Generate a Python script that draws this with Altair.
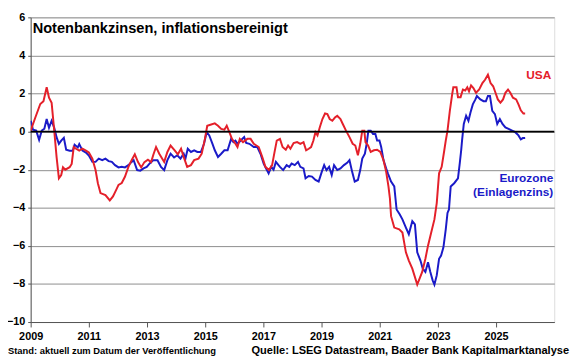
import altair as alt
import pandas as pd

# USA real policy rate (year fraction, percent)
us_t = [2009.00, 2009.16, 2009.33, 2009.44, 2009.55, 2009.63, 2009.72, 2009.81, 2009.89, 2009.97,
        2010.05, 2010.11, 2010.19, 2010.34, 2010.41, 2010.48, 2010.56, 2010.67, 2010.78, 2010.90,
        2011.00, 2011.12, 2011.23, 2011.31, 2011.40, 2011.57, 2011.72, 2011.83, 2011.94, 2012.02,
        2012.13, 2012.24, 2012.36, 2012.47, 2012.58, 2012.69, 2012.80, 2012.91, 2013.03, 2013.14,
        2013.22, 2013.31, 2013.42, 2013.59, 2013.70, 2013.81, 2013.95, 2014.06, 2014.17, 2014.26,
        2014.38, 2014.51, 2014.62, 2014.77, 2014.88, 2014.99, 2015.07, 2015.18, 2015.33, 2015.44,
        2015.55, 2015.66, 2015.74, 2015.83, 2015.92, 2016.04, 2016.11, 2016.19, 2016.30, 2016.45,
        2016.56, 2016.67, 2016.84, 2016.96, 2017.07, 2017.19, 2017.30, 2017.38, 2017.46, 2017.57,
        2017.66, 2017.77, 2017.85, 2017.93, 2018.04, 2018.16, 2018.27, 2018.38, 2018.47, 2018.56,
        2018.64, 2018.72, 2018.79, 2018.86, 2018.94, 2019.03, 2019.12, 2019.20, 2019.28, 2019.37,
        2019.46, 2019.54, 2019.65, 2019.73, 2019.84, 2019.96, 2020.07, 2020.16, 2020.25, 2020.33,
        2020.40, 2020.47, 2020.51, 2020.60, 2020.69, 2020.80, 2020.91, 2021.02, 2021.13, 2021.22,
        2021.30, 2021.35, 2021.39, 2021.50, 2021.67, 2021.78, 2021.90, 2022.00, 2022.12, 2022.29,
        2022.46, 2022.57, 2022.66, 2022.77, 2022.88, 2022.96, 2023.04, 2023.13, 2023.22, 2023.27,
        2023.33, 2023.41, 2023.49, 2023.53, 2023.64, 2023.69, 2023.78, 2023.86, 2023.94, 2024.01,
        2024.07, 2024.14, 2024.22, 2024.31, 2024.42, 2024.53, 2024.62, 2024.72, 2024.81, 2024.90,
        2024.98, 2025.06, 2025.15, 2025.24, 2025.32, 2025.41, 2025.49, 2025.58, 2025.69, 2025.77,
        2025.85, 2025.94, 2026.00]
us_v = [0.05, 0.74, 1.45, 1.60, 2.33, 1.78, 1.52, 0.05, -1.33, -2.45,
        -2.28, -1.87, -2.00, -1.87, -1.70, -0.81, -0.90, -1.00, -0.90, -1.00,
        -1.10, -1.42, -2.02, -2.71, -3.23, -3.33, -3.61, -3.40, -3.06, -2.80,
        -2.70, -2.37, -1.85, -1.50, -1.19, -1.60, -1.88, -1.60, -1.47, -1.60,
        -1.20, -0.81, -1.16, -1.59, -1.07, -0.73, -0.98, -1.19, -0.90, -1.33,
        -1.85, -1.76, -1.50, -1.42, -1.16, -0.38, 0.31, 0.36, 0.43, 0.31,
        0.14, 0.10, 0.31, -0.03, -0.38, -0.64, -0.81, -0.38, -0.55, -0.38,
        -0.38, -0.64, -0.81, -1.33, -1.85, -2.02, -1.76, -1.10, -0.47, -0.38,
        -0.81, -0.95, -0.73, -0.90, -0.60, -0.55, -0.64, -0.55, -0.98, -0.90,
        -0.81, -0.47, -0.03, -0.20, 0.23, 0.66, 0.95, 0.92, 0.66, 0.57,
        0.74, 0.83, 0.66, 0.40, 0.05, -0.29, -0.64, -0.73, -1.24, -0.64,
        0.05, 0.05, -0.55, -0.73, -1.07, -0.98, -0.95, -1.07, -1.50, -2.10,
        -2.88, -3.50, -4.44, -5.04, -5.13, -5.30, -6.34, -6.77, -7.20, -8.03,
        -7.37, -6.68, -5.99, -5.30, -4.61, -3.75, -2.19, -1.85, -0.98, -0.47,
        0.05, 1.09, 1.95, 2.33, 2.33, 1.81, 1.81, 2.21, 2.16, 2.33,
        2.12, 2.43, 2.29, 2.04, 2.21, 2.55, 2.72, 2.99, 2.55, 2.38,
        2.04, 1.69, 1.52, 1.69, 2.04, 2.21, 2.04, 1.78, 1.69, 1.43,
        1.12, 0.95, 0.95]

# Eurozone real deposit rate
ez_t = [2009.00, 2009.08, 2009.19, 2009.29, 2009.38, 2009.47, 2009.55, 2009.63, 2009.72, 2009.81,
        2009.89, 2009.97, 2010.05, 2010.14, 2010.22, 2010.34, 2010.45, 2010.51, 2010.62, 2010.67,
        2010.78, 2010.90, 2011.00, 2011.12, 2011.23, 2011.34, 2011.46, 2011.57, 2011.68, 2011.79,
        2011.90, 2012.02, 2012.13, 2012.24, 2012.36, 2012.47, 2012.54, 2012.66, 2012.77, 2012.88,
        2012.99, 2013.10, 2013.21, 2013.36, 2013.48, 2013.59, 2013.70, 2013.81, 2013.93, 2014.04,
        2014.15, 2014.26, 2014.32, 2014.40, 2014.51, 2014.62, 2014.73, 2014.85, 2014.96, 2015.05,
        2015.14, 2015.25, 2015.33, 2015.44, 2015.55, 2015.66, 2015.77, 2015.89, 2015.97, 2016.04,
        2016.11, 2016.22, 2016.34, 2016.41, 2016.52, 2016.67, 2016.79, 2016.90, 2017.01, 2017.09,
        2017.18, 2017.27, 2017.35, 2017.43, 2017.52, 2017.57, 2017.68, 2017.80, 2017.89, 2017.97,
        2018.08, 2018.19, 2018.27, 2018.38, 2018.45, 2018.56, 2018.67, 2018.79, 2018.90, 2019.01,
        2019.09, 2019.17, 2019.26, 2019.35, 2019.43, 2019.54, 2019.65, 2019.77, 2019.88, 2019.96,
        2020.05, 2020.14, 2020.25, 2020.33, 2020.40, 2020.49, 2020.55, 2020.61, 2020.69, 2020.77,
        2020.85, 2020.91, 2020.99, 2021.05, 2021.13, 2021.22, 2021.28, 2021.39, 2021.50, 2021.58,
        2021.69, 2021.78, 2021.90, 2022.00, 2022.12, 2022.21, 2022.29, 2022.40, 2022.48, 2022.57,
        2022.66, 2022.74, 2022.82, 2022.88, 2022.96, 2023.04, 2023.11, 2023.19, 2023.27, 2023.33,
        2023.38, 2023.44, 2023.56, 2023.69, 2023.75, 2023.80, 2023.83, 2023.89, 2023.97, 2024.05,
        2024.12, 2024.20, 2024.29, 2024.34, 2024.46, 2024.57, 2024.65, 2024.72, 2024.79, 2024.87,
        2024.96, 2025.04, 2025.13, 2025.22, 2025.32, 2025.43, 2025.55, 2025.66, 2025.77, 2025.85,
        2025.92, 2026.00]
ez_v = [0.57, 0.10, 0.05, -0.43, 0.05, 0.15, 0.66, 0.20, 0.57, 0.20,
        -0.29, -0.64, -0.47, -0.33, -0.95, -1.00, -1.00, -0.69, -0.83, -0.66,
        -1.00, -1.10, -1.26, -1.59, -1.59, -1.42, -1.50, -1.42, -1.55, -1.59,
        -1.76, -1.88, -1.85, -1.88, -1.76, -1.59, -1.50, -2.02, -2.05, -1.93,
        -1.85, -1.66, -1.50, -1.50, -1.85, -2.02, -1.50, -1.16, -1.36, -1.24,
        -1.42, -1.16, -1.42, -0.90, -1.07, -0.98, -1.07, -1.07, -0.64, -0.03,
        -0.20, -0.64, -0.98, -1.33, -1.16, -0.98, -0.98, -0.38, -0.55, -0.47,
        -0.64, -0.47, -0.29, -0.60, -0.64, -0.81, -0.81, -1.16, -1.68, -1.93,
        -2.19, -1.85, -2.00, -1.59, -1.76, -1.85, -2.02, -1.76, -1.85, -1.68,
        -1.76, -1.59, -1.85, -1.93, -2.45, -2.33, -2.36, -2.54, -2.62, -2.10,
        -1.76, -2.02, -1.85, -2.28, -1.76, -2.02, -1.93, -1.76, -1.64, -1.50,
        -2.10, -2.62, -2.54, -2.02, -1.42, -1.16, -0.64, 0.05, 0.05, -0.12,
        -0.12, -0.47, -0.47, -0.81, -1.50, -1.93, -2.19, -2.62, -2.88, -4.09,
        -4.35, -4.61, -5.04, -5.39, -4.70, -4.87, -6.34, -6.77, -7.20, -7.37,
        -6.86, -7.37, -7.81, -8.03, -7.55, -6.68, -6.51, -6.08, -5.13, -4.27,
        -4.09, -2.88, -2.71, -2.45, -1.68, -0.98, -0.47, 0.40, 0.83, 0.57,
        1.00, 1.43, 1.69, 1.87, 1.69, 1.60, 1.60, 1.87, 1.87, 1.09,
        0.92, 0.40, 0.66, 0.40, 0.22, 0.14, 0.05, -0.03, -0.20, -0.41,
        -0.34, -0.33]

series_names = ["Eurozone", "USA"]
series_colors = ["#1a1ac8", "#e4202a"]
x_ticks = [2009, 2011, 2013, 2015, 2017, 2019, 2021, 2023, 2025]
y_ticks = [-10, -8, -6, -4, -2, 0, 2, 4, 6]

df = pd.concat([
    pd.DataFrame({"t": ez_t, "v": ez_v, "s": "Eurozone", "k": 0}),
    pd.DataFrame({"t": us_t, "v": us_v, "s": "USA", "k": 1}),
])

FONT = "Liberation Sans"
W, H = 531, 309
OX, OY = 31, 15  # plot origin in page pixels

y_axis = alt.Axis(values=y_ticks, format="d", grid=True, gridColor="#8c8c8c", gridWidth=1,
                  tickCount=9, title=None, labelFont=FONT, labelFontWeight="bold",
                  labelFontSize=11, labelColor="black", tickSize=3, labelPadding=3,
                  labelOverlap=False, labelBound=False, labelFlush=False,
                  domainColor="#555555", tickColor="#555555")
y_scale = alt.Scale(domain=[-10, 6], nice=False)

xs = alt.X("t:Q", scale=alt.Scale(domain=[2009, 2027], nice=False, zero=False),
           axis=alt.Axis(values=x_ticks, format="d", grid=False, title=None,
                         labelFont=FONT, labelFontWeight="bold", labelFontSize=11,
                         labelColor="black", tickSize=5, labelPadding=4,
                         labelOverlap=False, labelBound=False,
                         domainColor="#555555", tickColor="#555555", labelFlush=False))

lines = alt.Chart(df).mark_line(strokeWidth=2, clip=True).encode(
    x=xs, y=alt.Y("v:Q", scale=y_scale, axis=y_axis),
    color=alt.Color("s:N", scale=alt.Scale(domain=series_names, range=series_colors), legend=None),
    detail="k:N",
    order="t:Q",
)

zero = alt.Chart(pd.DataFrame({"v": [0]})).mark_rule(color="black", strokeWidth=2).encode(
    y=alt.Y("v:Q", scale=y_scale, axis=y_axis))


def label(txt, px, py, size, color="black", align="left"):
    return alt.Chart(pd.DataFrame({"txt": [txt]})).mark_text(
        font=FONT, fontWeight="bold", fontSize=size, color=color, align=align,
        baseline="alphabetic"
    ).encode(text="txt:N", x=alt.value(px - OX), y=alt.value(py - OY))


texts = [
    label("Notenbankzinsen, inflationsbereinigt", 33, 31, 14.8),
    label("USA", 559, 78, 12, series_colors[1], "right"),
    label("Eurozone", 561, 182, 12, series_colors[0], "right"),
    label("(Einlagenzins)", 561, 196, 12, series_colors[0], "right"),
    label("Stand: aktuell zum Datum der Veröffentlichung", 8, 356, 9.5),
    label("Quelle: LSEG Datastream, Baader Bank Kapitalmarktanalyse", 577, 356, 11.2, "black", "right"),
]

chart = alt.layer(lines, zero, *texts).properties(
    width=W, height=H,
    autosize="none",
    padding={"left": OX - 8, "top": OY - 8, "right": 580 - 8 - (OX - 8) - W, "bottom": 359 - 8 - (OY - 8) - H},
).configure_view(stroke="#8c8c8c", strokeWidth=1).configure(background="white")

chart.save("out.html", embed_options={"renderer": "svg", "actions": False})
